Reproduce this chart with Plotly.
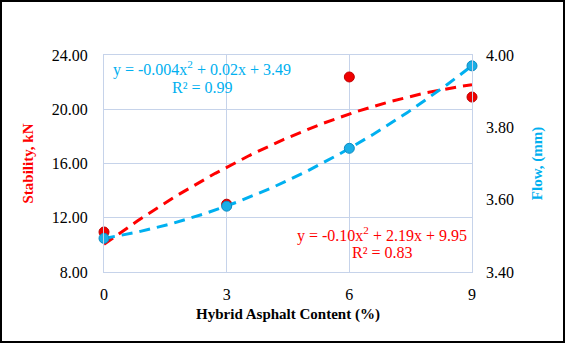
import numpy as np
import plotly.graph_objects as go

# Hybrid asphalt content (%) and Marshall test results
content = [0, 3, 6, 9]
stability = [10.95, 13.0, 22.38, 20.9]   # kN
flow = [3.493, 3.582, 3.742, 3.970]      # mm
x_ticks = [0, 3, 6, 9]

RED = "#ff0000"
BLUE = "#00b0f0"
GRID = "#c6d3ea"
FONT = "'Liberation Serif', 'Times New Roman', serif"
TICKFONT = dict(family=FONT, size=16, color="black")

# Second-order polynomial trendlines fitted to each series
xs = np.linspace(0, 9, 120)
stab_fit = np.polyval(np.polyfit(content, stability, 2), xs)
flow_fit = np.polyval(np.polyfit(content, flow, 2), xs)

fig = go.Figure()
fig.add_trace(go.Scatter(x=xs, y=stab_fit, mode="lines", yaxis="y",
                         line=dict(color=RED, width=3, dash="11px,7px"),
                         hoverinfo="skip", showlegend=False))
fig.add_trace(go.Scatter(x=xs, y=flow_fit, mode="lines", yaxis="y2",
                         line=dict(color=BLUE, width=3, dash="11px,7px"),
                         hoverinfo="skip", showlegend=False))
fig.add_trace(go.Scatter(x=content, y=stability, mode="markers", yaxis="y",
                         marker=dict(color="#f00000", size=10,
                                     line=dict(color="#c00000", width=1)),
                         cliponaxis=False, showlegend=False))
fig.add_trace(go.Scatter(x=content, y=flow, mode="markers", yaxis="y2",
                         marker=dict(color="#1aaee6", size=10,
                                     line=dict(color="#0a8cc4", width=1)),
                         cliponaxis=False, showlegend=False))

W, H = 565, 343
L, R, T, B = 104, 93, 55, 71
pw, ph = W - L - R, H - T - B

fig.update_layout(
    width=W, height=H,
    margin=dict(l=L, r=R, t=T, b=B),
    paper_bgcolor="white", plot_bgcolor="white",
    font=dict(family=FONT, size=16, color="black"),
    xaxis=dict(range=[0, 9], tickvals=x_ticks, ticktext=[str(v) for v in x_ticks],
               tickfont=TICKFONT,
               showgrid=True, gridcolor=GRID, gridwidth=1,
               showline=True, linecolor=GRID, mirror=True, zeroline=False,
               ticks="", ticklabelstandoff=8,
               title=dict(text="<b>Hybrid Asphalt Content (%)</b>",
                          font=dict(family=FONT, size=15, color="black"),
                          standoff=6)),
    yaxis=dict(range=[8, 24], dtick=4, tickformat=".2f", tickfont=TICKFONT,
               showgrid=True, gridcolor=GRID, gridwidth=1,
               showline=True, linecolor=GRID, mirror=True, zeroline=False,
               ticks="", ticklabelstandoff=12,
               title=dict(text="<b>Stability, kN</b>",
                          font=dict(family=FONT, size=15, color=RED),
                          standoff=14)),
    yaxis2=dict(range=[3.4, 4.0], dtick=0.2, tickformat=".2f", tickfont=TICKFONT,
                overlaying="y", side="right", showgrid=False, zeroline=False,
                showline=False, ticks="", ticklabelstandoff=13,
                title=dict(text="<b>Flow, (mm)</b>",
                           font=dict(family=FONT, size=15, color=BLUE),
                           standoff=18)),
)

# Trendline equations
ann = [
    (2.4, 22.97, "y = -0.004x<sup>2</sup> + 0.02x + 3.49", BLUE),
    (2.4, 21.64, "R² = 0.99", BLUE),
    (6.81, 10.75, "y = -0.10x<sup>2</sup> + 2.19x + 9.95", RED),
    (6.81, 9.42, "R² = 0.83", RED),
]
for ax_, ay_, txt, col in ann:
    fig.add_annotation(x=ax_, y=ay_, xref="x", yref="y", text=txt,
                       showarrow=False, xanchor="center", yanchor="middle",
                       font=dict(family=FONT, size=16, color=col))

# Outer frame around the whole figure
fig.add_shape(type="rect", xref="paper", yref="paper",
              x0=(1 - L) / pw, x1=(W - L - 1) / pw,
              y0=-(B - 1) / ph, y1=(H - B - 1) / ph,
              line=dict(color="black", width=2), fillcolor="rgba(0,0,0,0)",
              layer="above")

fig.write_html("out.html")
